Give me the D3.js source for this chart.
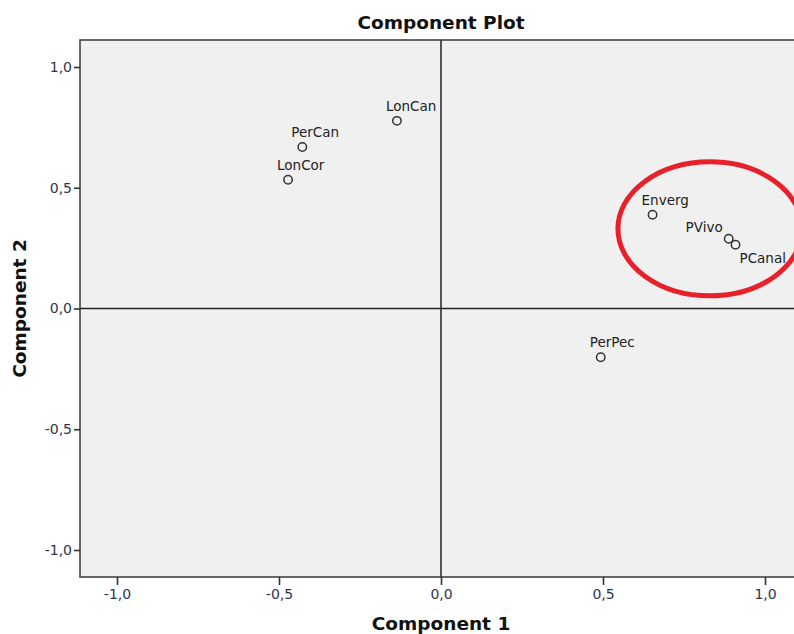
<!DOCTYPE html>
<html>
<head>
<meta charset="utf-8">
<script src="https://cdn.jsdelivr.net/npm/d3@7/dist/d3.min.js"></script>
<style>
  html, body { margin: 0; padding: 0; background: #fff; }
  svg { display: block; }
</style>
</head>
<body>
<svg id="chart" width="794" height="634"></svg>
<script>
// Component loadings (Component 1, Component 2)
const variables = ["LonCan", "PerCan", "LonCor", "Enverg", "PVivo", "PCanal", "PerPec"];
const component1 = [-0.136, -0.428, -0.472, 0.653, 0.888, 0.909, 0.493];
const component2 = [0.777, 0.669, 0.533, 0.388, 0.289, 0.264, -0.202];
const labelSide = ["above", "above", "above", "above", "left", "below", "above"];
const tickValues = [-1.0, -0.5, 0.0, 0.5, 1.0];
const fmt = v => d3.format(".1f")(v).replace(".", ",").replace("\u2212", "-");

const svg = d3.select("#chart");

// axis extent (data units) and scales
const hi = 1.115;
const x = d3.scaleLinear().domain([-1, 1]).range([117, 765]);
const y = d3.scaleLinear().domain([-1, 1]).range([550, 67]);

const bodyFont = "'DejaVu Sans', 'Noto Sans', sans-serif";

// plot background
const fx0 = 80, fx1 = x(hi), fy0 = 40, fy1 = 577;
svg.append("rect")
  .attr("x", fx0).attr("y", fy0)
  .attr("width", fx1 - fx0).attr("height", fy1 - fy0)
  .attr("fill", "#f0f0f0").attr("stroke", "#444").attr("stroke-width", 1.6);

// reference lines through the origin
svg.append("line")
  .attr("x1", x(0)).attr("x2", x(0)).attr("y1", fy0).attr("y2", fy1)
  .attr("stroke", "#222").attr("stroke-width", 1.5);
svg.append("line")
  .attr("x1", fx0).attr("x2", fx1).attr("y1", y(0)).attr("y2", y(0))
  .attr("stroke", "#222").attr("stroke-width", 1.5);

// axes
const xAxis = d3.axisBottom(x).tickValues(tickValues).tickFormat(fmt).tickSize(8).tickSizeOuter(0);
const yAxis = d3.axisLeft(y).tickValues(tickValues).tickFormat(fmt).tickSize(6).tickSizeOuter(0);

const gx = svg.append("g").attr("transform", `translate(0,${fy1})`).call(xAxis);
const gy = svg.append("g").attr("transform", `translate(${fx0},0)`).call(yAxis);
[gx, gy].forEach(g => {
  g.select(".domain").remove();
  g.selectAll(".tick line").attr("stroke", "#333").attr("stroke-width", 1.6);
  g.selectAll(".tick text")
    .attr("fill", "#2f3550")
    .style("font-family", bodyFont)
    .style("font-size", "14px");
});
gx.selectAll(".tick text").attr("y", 12).attr("dy", "0.71em");
gy.selectAll(".tick text").attr("x", -8);

// points
const pts = variables.map((name, i) => ({ name, c1: component1[i], c2: component2[i], side: labelSide[i] }));

svg.append("g").selectAll("circle").data(pts).join("circle")
  .attr("cx", d => x(d.c1)).attr("cy", d => y(d.c2)).attr("r", 4.2)
  .attr("fill", "none").attr("stroke", "#333").attr("stroke-width", 1.5);

const labelPos = {
  above: { dx: -11, dy: -10, anchor: "start" },
  left:  { dx: -6, dy: -7, anchor: "end" },
  below: { dx: 4, dy: 18, anchor: "start" }
};

svg.append("g").selectAll("text").data(pts).join("text")
  .each(function(d) {
    const p = labelPos[d.side];
    d3.select(this)
      .attr("x", x(d.c1) + p.dx)
      .attr("y", y(d.c2) + p.dy)
      .attr("text-anchor", p.anchor);
  })
  .attr("fill", "#222")
  .style("font-family", bodyFont)
  .style("font-size", "13.5px")
  .text(d => d.name);

// highlight ellipse around the cluster
svg.append("ellipse")
  .attr("cx", x(0.83)).attr("cy", y(0.33))
  .attr("rx", 92).attr("ry", 67)
  .attr("fill", "none").attr("stroke", "#e8202a").attr("stroke-width", 5);

// titles
svg.append("text")
  .attr("x", x(0)).attr("y", 29).attr("text-anchor", "middle")
  .style("font-family", bodyFont).style("font-weight", "bold").style("font-size", "18.5px")
  .attr("fill", "#111").text("Component Plot");

svg.append("text")
  .attr("x", x(0)).attr("y", 630).attr("text-anchor", "middle")
  .style("font-family", bodyFont).style("font-weight", "bold").style("font-size", "18.5px")
  .attr("fill", "#111").text("Component 1");

svg.append("text")
  .attr("transform", `translate(26,${y(0)}) rotate(-90)`).attr("text-anchor", "middle")
  .style("font-family", bodyFont).style("font-weight", "bold").style("font-size", "18.5px")
  .attr("fill", "#111").text("Component 2");
</script>
</body>
</html>
